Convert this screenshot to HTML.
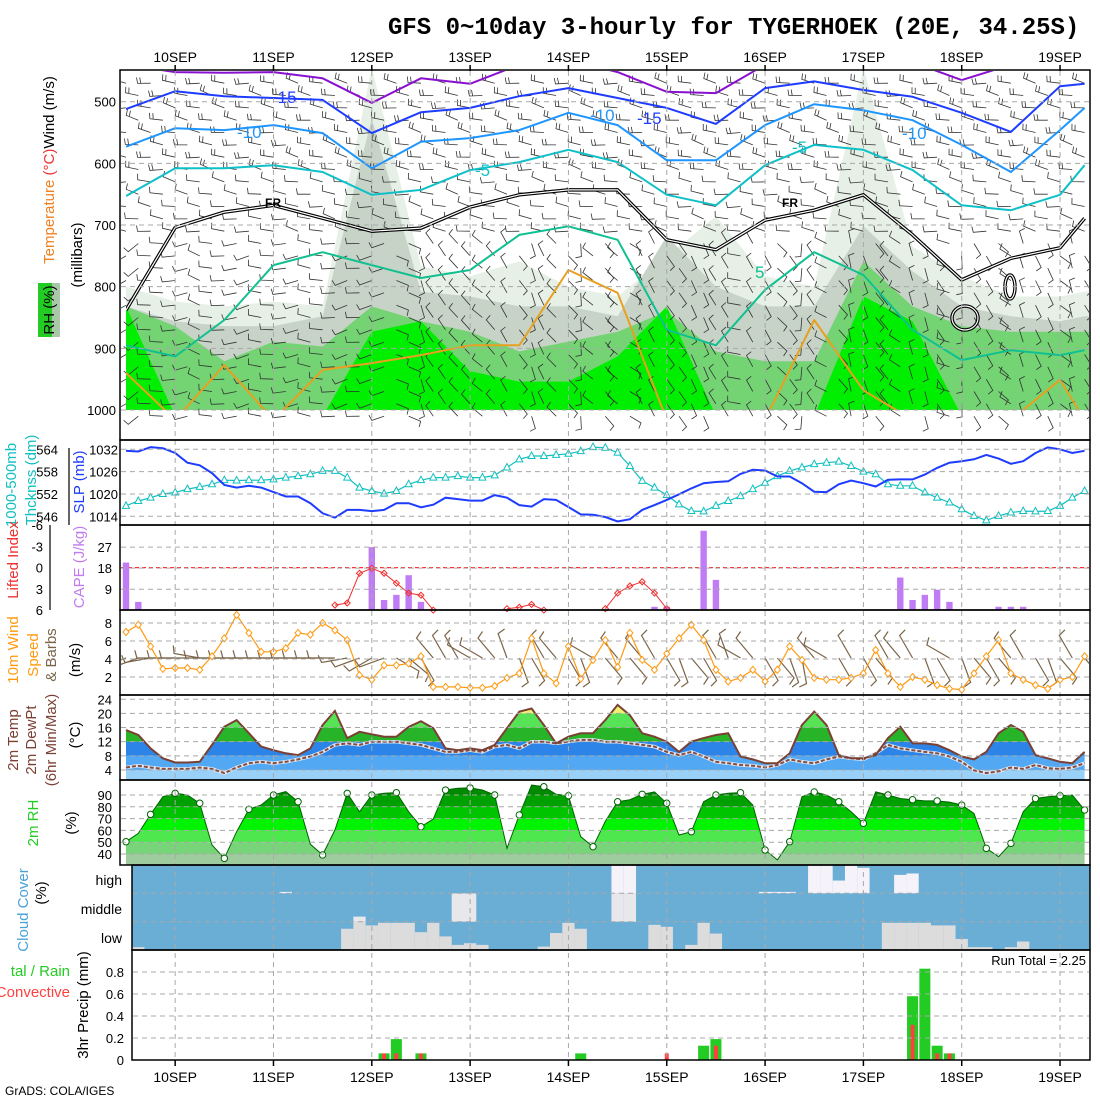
<!DOCTYPE html>
<html><head><meta charset="utf-8"><title>GFS meteogram</title>
<style>
html,body{margin:0;padding:0;background:#fff;}
svg{display:block;font-family:"Liberation Sans",sans-serif;}
.lbl{font-size:13px;}
.grid{stroke:#a8a8a8;stroke-width:1;stroke-dasharray:5 4;fill:none;}
</style></head>
<body>
<svg id="chart" xmlns="http://www.w3.org/2000/svg" width="1100" height="1100" viewBox="0 0 1100 1100">
<defs>
<clipPath id="clipTop"><rect x="126" y="71" width="963" height="339"/></clipPath>
<clipPath id="clipPanelTop"><rect x="121" y="71" width="968" height="368"/></clipPath>
<clipPath id="clipW"><rect x="121" y="611" width="968" height="83"/></clipPath>
</defs>
<rect x="0" y="0" width="1100" height="1100" fill="#fff"/>
<text x="388" y="34" style="font-family:'Liberation Mono',monospace;font-weight:bold;font-size:24px">GFS 0~10day 3-hourly for TYGERHOEK (20E, 34.25S)</text>
<g id="layers"></g>
<g id="labels"></g>
<text x="5" y="1095" style="font-size:12px">GrADS: COLA/IGES</text>
</svg>
<script>
// ---------- data ----------
const days = ["10SEP","11SEP","12SEP","13SEP","14SEP","15SEP","16SEP","17SEP","18SEP","19SEP"];
const isoSteps = [0,4,8,12,16,20,24,28,32,36,40,44,48,52,56,60,64,68,72,76,78];
const isoM20 = [440,452,453,452,462,502,462,471,440,432,452,484,486,440,425,425,436,465,440,425,425];
const isoM15 = [512,483,491,494,497,551,517,510,491,478,494,510,536,478,467,481,492,518,549,475,471];
const isoM10 = [573,543,546,538,551,608,565,559,546,518,538,595,595,538,504,514,530,570,614,546,510];
const isoM5 = [653,608,608,603,614,651,643,611,598,578,598,651,668,603,570,578,611,668,676,651,603];
const isoZero = [838,704,679,668,689,710,705,671,651,643,643,724,740,692,676,651,716,789,754,737,689];
const isoP5 = [895,913,854,765,744,765,786,773,716,702,724,870,895,805,744,781,870,919,903,911,903];
const isoP10 = [940,1016,927,1016,935,924,911,895,895,773,810,1016,1016,1016,854,968,1016,1016,1016,951,1016];
const rh30Top = [800,824,832,824,832,445,767,783,759,800,816,751,686,783,800,445,735,783,816,816,808];
const rh50Top = [832,856,864,864,848,527,808,816,832,832,848,718,800,832,832,702,775,832,848,856,848];
const rh70Top = [832,864,921,889,897,832,856,873,905,889,873,840,905,921,921,759,832,864,873,873,873];
const rh80Top = [832,1010,1010,1010,1010,873,856,937,954,954,913,832,1010,1010,1010,816,856,1010,1010,1010,1010];
const slp = [1031.6,1031.4,1032.6,1032.3,1031,1028.4,1027.7,1025.6,1022.4,1021.7,1022.2,1021.7,1020.5,1019.3,1019.3,1017.5,1014.8,1013.6,1015.7,1015.7,1015.4,1015.7,1017.5,1017.5,1016.4,1017.1,1019,1018.6,1018.2,1018.2,1019.7,1019,1017,1016.6,1018.6,1018.4,1016.5,1014.5,1014.4,1013.8,1012.6,1013.2,1015.7,1017,1018.4,1019.9,1021.5,1022.9,1023.2,1023.4,1025.4,1026.5,1026.3,1024.7,1024.7,1022.9,1020.6,1020.5,1022.6,1023.6,1022.9,1022,1023.8,1023.9,1023.9,1025.2,1027,1028.4,1028.8,1029.3,1030.5,1029.5,1028.1,1028.8,1031,1032.5,1032,1031,1031.6];
const thick = [548.8,550.1,551,552,552.4,553.3,553.9,554.6,555.7,555.6,555.7,555.7,555.9,556.4,556.8,557.3,558.2,558.2,556.4,553.7,552.8,552.1,552.8,554.6,555.7,556.4,556.4,556.8,556.4,556.4,557,559.1,561.3,562.2,562.2,562.5,562.8,563.5,564.6,564.4,563.1,559.5,555.5,553.7,551.7,549.2,547.4,547.3,548.8,550.1,551.4,553.3,555,556.8,558.2,559.1,560,560.4,560.7,559.5,558,557.3,554.6,554.2,554.2,552.4,551,549.7,547.9,546.1,544.9,546.1,547,547.4,547.3,547.4,548.8,551,552.8];
const capeIdx = [0,1,20,21,22,23,24,43,44,47,48,63,64,65,66,67,71,72,73];
const capeVal = [20.4,3.6,27,4.4,6.6,15,3.6,1.5,1.5,34,13,14,4.4,6.6,8.8,3.6,1.5,1.5,1.5];
const liIdx = [17,18,19,20,21,22,23,24,25,31,32,33,34,39,40,41,42,43,44];
const liVal = [5.3,5.0,0.8,0.1,0.8,2.2,3.6,3.9,6.0,5.8,5.6,5.2,6.0,5.8,3.6,2.6,2.0,3.6,5.8];
const wspd = [7.0,7.8,5.4,2.9,3.0,3.0,2.8,4.3,6.3,8.9,6.9,4.8,4.8,5.2,6.9,6.7,8.0,7.2,6.1,2.2,1.7,3.3,3.3,3.5,4.3,0.9,0.9,0.9,0.8,0.8,1.0,1.9,2.4,6.3,2.4,1.3,5.4,1.8,3.9,6.1,3.1,6.9,3.9,2.8,4.6,6.3,7.8,6.1,2.8,1.5,1.9,2.8,1.5,2.8,5.4,3.9,1.9,1.7,1.7,1.9,2.4,5.0,2.4,0.9,2.0,1.7,1.1,0.7,0.6,2.4,4.3,6.1,2.4,1.7,1.1,0.7,1.7,2.0,4.3];
const wdir = [250,250,260,270,270,270,280,270,270,270,270,270,270,270,270,270,270,270,260,250,240,250,120,130,150,320,330,330,300,300,320,340,160,150,330,320,150,160,300,140,320,140,320,330,150,160,140,150,330,340,300,320,150,140,160,170,320,300,150,330,150,140,330,320,330,160,150,300,160,140,150,140,320,330,150,160,140,330,140];
const temp = [15.3,13.9,10.1,7.3,6.1,6.1,6.3,11.1,16.2,18.1,14.4,10.6,9.6,8.7,8.2,10.1,16.7,20.7,13.0,14.8,14.1,13.4,13.4,16.2,17.8,15.8,10.1,9.6,10.1,9.6,11.1,15.8,20.5,21.4,16.7,11.5,13.4,14.4,14.4,18.1,22.4,19.5,14.4,13.4,12.0,9.1,12.0,13.0,13.9,14.4,7.8,7.0,5.9,5.9,8.7,16.7,20.5,16.7,8.2,7.3,7.3,8.2,13.0,16.2,11.5,11.5,11.1,9.6,7.8,7.0,9.1,14.4,16.7,14.8,8.2,7.3,6.3,5.9,9.1];
const dewpt = [4.7,5.2,4.7,4.3,4.3,4.3,4.7,4.3,3.1,4.7,5.9,6.3,5.9,6.3,7.0,7.8,9.1,11.1,11.5,11.1,12.0,12.0,12.0,11.5,11.1,10.1,9.1,9.1,9.6,9.1,10.6,11.1,10.1,12.0,12.0,11.5,12.0,12.5,12.5,12.0,12.0,11.5,11.1,10.6,9.1,8.2,9.1,7.8,6.3,5.9,5.4,5.2,4.7,5.4,7.0,6.3,5.9,7.0,7.8,7.3,7.0,8.7,11.1,10.1,9.6,9.1,8.7,7.8,6.3,3.9,3.1,3.6,4.7,4.3,5.4,4.5,4.3,4.7,5.9];
const rh = [50.4,57.5,73.6,88.6,91.4,90,83,47.6,36.3,58.9,77.9,81.5,90,93,84.3,48.2,39.2,60.3,91.4,75.8,90,91.4,92,75.8,63.1,69.7,94.2,95.7,96,94.2,90,44.8,73.1,98.5,97,90.6,89.4,54.7,46.2,67.6,84.3,86,90.6,92.6,83,56.1,58.9,84.3,90,91.4,92,81.5,43.4,35,50.4,88.6,92.6,90,84.3,75.8,66,92.6,90,87,86,85,85,84,81.5,74.4,44.8,37.7,49,75.8,87,88.6,89.4,90,77.3];
const cloudLowIdx = [1,18,19,20,21,22,23,24,25,26,27,28,29,34,35,36,37,43,44,46,47,48,62,63,64,65,66,67,68,69,70,72,73];
const cloudLowVal = [10,75,100,87,96,96,96,63,96,48,18,24,18,12,60,96,75,89,82,18,96,58,96,96,96,96,87,87,39,10,10,10,30];
const cloudMidIdx = [19,27,28,40,41];
const cloudMidVal = [18,100,100,100,100];
const cloudHighIdx = [13,40,41,52,53,54,56,57,58,59,60,63,64];
const cloudHighVal = [5,100,100,5,5,5,100,100,45,100,90,65,70];
const precipIdx = [21,22,24,37,44,47,48,64,65,66,67];
const precipTot = [0.06,0.19,0.06,0.06,0.0,0.13,0.19,0.58,0.83,0.13,0.06];
const precipConv = [0.06,0.06,0.06,0.0,0.06,0.0,0.13,0.32,0.0,0.06,0.06];
const slpTicks = [1032,1026,1020,1014];
const thickTicks = [564,558,552,546];
const pTicks = [500,600,700,800,900,1000];
const capeTicks = [27,18,9];
const liTicks = ["-6","-3","0","3","6"];
const wTicks = [8,6,4,2];
const tTicks = [24,20,16,12,8,4];
const rhTicks = [90,80,70,60,50,40];
const prTicks = ["0.8","0.6","0.4","0.2","0"];

// ---------- scales ----------
const NS = "http://www.w3.org/2000/svg";
const X = i => 126 + 12.29 * i;
const Yp = p => 101.7 + (p - 500) * 0.6166;
const Ys = v => 449.3 + (1032 - v) * 3.72;
const Yt = v => 449.3 + (564 - v) * 3.72;
const Yc = v => 610.3 - v * 2.34;
const Yl = v => 567.6 + v * 7.08;
const Yw = v => 695 - 9 * v;
const YT = v => 784.1 - 3.535 * v;
const Yr = v => 795 + (90 - v) * 1.18;
const Ypr = v => 1060 - 110 * v;

const layers = document.getElementById('layers');
const labels = document.getElementById('labels');
function mk(tag, attrs, parent) {
  const e = document.createElementNS(NS, tag);
  for (const k in attrs) e.setAttribute(k, attrs[k]);
  (parent || layers).appendChild(e);
  return e;
}
function grp(name, attrs) {
  const g = mk('g', attrs || {});
  
  
  return g;
}
function txt(s, x, y, attrs, parent) {
  const t = mk('text', Object.assign({x: x, y: y}, attrs || {}), parent || labels);
  t.textContent = s;
  return t;
}

// ---------- top panel: RH shading ----------
const gTop = grp('rh-temperature-panel', {'clip-path': 'url(#clipTop)'});
function bandPoly(arr, color, name) {
  let pts = isoSteps.map((k, j) => X(k) + ',' + Yp(arr[j]).toFixed(1));
  pts.push(X(78) + 10 + ',' + Yp(arr[arr.length - 1]).toFixed(1));
  pts.unshift('116,' + Yp(arr[0]).toFixed(1));
  pts.push('1100,420', '116,420');
  const e = mk('polygon', {points: pts.join(' '), fill: color}, gTop);
  
  
}
bandPoly(rh30Top, '#e6f0e6', 'rh-band-30');
bandPoly(rh50Top, '#c7d3c7', 'rh-band-50');
bandPoly(rh70Top, '#74d474', 'rh-band-70');
bandPoly(rh80Top, '#00ee00', 'rh-band-80');

// ---------- top panel barbs ----------
const gBarb = grp('upper-wind-barbs', {'clip-path': 'url(#clipPanelTop)', stroke: '#333', 'stroke-width': '0.8', fill: 'none'});
for (let i = 0; i < 79; i++) {
  const off = (i % 2) * 20;
  for (let p = 470 + off; p <= 1010; p += 40) {
    const dir = p < 720 ? 265 + ((i * 7 + p) % 30) : wdir[i] + ((p * 3 + i * 11) % 40) - 20;
    const a = dir * Math.PI / 180;
    const x0 = X(i), y0 = Yp(p);
    const dx = Math.sin(a) * 13, dy = -Math.cos(a) * 13;
    const x1 = x0 + dx, y1 = y0 + dy;
    const fx = Math.sin(a + 1.4) * 6, fy = -Math.cos(a + 1.4) * 6;
    let d = 'M' + x0.toFixed(1) + ' ' + y0.toFixed(1) + 'L' + x1.toFixed(1) + ' ' + y1.toFixed(1) + 'l' + fx.toFixed(1) + ' ' + fy.toFixed(1);
    if (p < 620) d += 'M' + (x1 - dx * 0.25).toFixed(1) + ' ' + (y1 - dy * 0.25).toFixed(1) + 'l' + fx.toFixed(1) + ' ' + fy.toFixed(1);
    const b = mk('path', {d: d}, gBarb);
    
    
  }
}

// ---------- isotherms ----------
function isoLine(arr, color, w, name) {
  const pts = isoSteps.map((k, j) => X(k).toFixed(1) + ',' + Yp(arr[j]).toFixed(1)).join(' ');
  const e = mk('polyline', {points: pts, fill: 'none', stroke: color, 'stroke-width': w, 'stroke-linejoin': 'round'}, gTop);
  
  
  return e;
}
const gTopL = grp('isotherm-lines', {'clip-path': 'url(#clipTop)'});
function isoLine2(arr, color, w, name) {
  const pts = isoSteps.map((k, j) => X(k).toFixed(1) + ',' + Yp(arr[j]).toFixed(1)).join(' ');
  const e = mk('polyline', {points: pts, fill: 'none', stroke: color, 'stroke-width': w, 'stroke-linejoin': 'round'}, gTopL);
  
  
}
isoLine2(isoM20, '#8a10d0', 2, 'isotherm-minus-20');
isoLine2(isoM15, '#1e3cff', 2, 'isotherm-minus-15');
isoLine2(isoM10, '#1e96ff', 2, 'isotherm-minus-10');
isoLine2(isoM5, '#10c0c8', 2, 'isotherm-minus-5');
isoLine2(isoZero, '#000', 3.5, 'freezing-level-outer');
isoLine2(isoZero, '#fff', 1.2, 'freezing-level-inner');
isoLine2(isoP5, '#10c090', 2, 'isotherm-plus-5');
isoLine2(isoP10, '#e8a020', 2, 'isotherm-plus-10');
const frC = [[965, 318, 13, 12], [1010, 287, 5, 12]];
frC.forEach(c => {
  const e1 = mk('ellipse', {cx: c[0], cy: c[1], rx: c[2], ry: c[3], fill: 'none', stroke: '#000', 'stroke-width': 3.5}, gTopL);
  
  
  const e2 = mk('ellipse', {cx: c[0], cy: c[1], rx: c[2], ry: c[3], fill: 'none', stroke: '#fff', 'stroke-width': 1.2}, gTopL);
  
  
});
const isoLabels = [['-15', 280, 103, '#1e3cff'], ['-10', 245, 138, '#1e96ff'], ['-5', 483, 176, '#10c0c8'], ['-10', 598, 121, '#1e96ff'], ['-15', 645, 124, '#1e3cff'], ['-5', 800, 153, '#10c0c8'], ['-10', 910, 139, '#1e96ff'], ['5', 763, 278, '#10c090'], ['FR', 273, 207, '#000'], ['FR', 790, 207, '#000']];
isoLabels.forEach(l => {
  const t = txt(l[0], l[1] - 8, l[2], {fill: l[3], style: 'font-size:' + (l[0] === 'FR' ? '12px;font-weight:bold' : '17px')}, gTopL);
  
  
});

// ---------- SLP / thickness ----------
const gS = grp('slp-panel');
const thickPts = thick.map((v, i) => X(i).toFixed(1) + ',' + Yt(v).toFixed(1)).join(' ');
const tl = mk('polyline', {points: thickPts, fill: 'none', stroke: '#10c0c0', 'stroke-width': 1.2}, gS);


thick.forEach((v, i) => {
  const x = X(i), y = Yt(v);
  const m = mk('polygon', {points: x + ',' + (y - 4) + ' ' + (x - 3.5) + ',' + (y + 2.5) + ' ' + (x + 3.5) + ',' + (y + 2.5), fill: '#fff', stroke: '#10c0c0', 'stroke-width': 1}, gS);
  
  
});
const sl = mk('polyline', {points: slp.map((v, i) => X(i).toFixed(1) + ',' + Ys(v).toFixed(1)).join(' '), fill: 'none', stroke: '#1e3cff', 'stroke-width': 2}, gS);



// ---------- CAPE / LI ----------
const gC = grp('cape-panel');
const liZero = mk('line', {x1: 121, x2: 1089, y1: Yl(0), y2: Yl(0), stroke: '#ff3030', 'stroke-width': 1.2, 'stroke-dasharray': '4 3'}, gC);


capeIdx.forEach((k, j) => {
  const r = mk('rect', {x: X(k) - 3.2, y: Yc(capeVal[j]), width: 6.4, height: 610 - Yc(capeVal[j]), fill: '#c07cf4'}, gC);
  
  
});
let seg = [];
liIdx.forEach((k, j) => {
  if (j > 0 && k !== liIdx[j - 1] + 1) {
    const s = mk('polyline', {points: seg.join(' '), fill: 'none', stroke: '#f03030', 'stroke-width': 1}, gC);
    
    
    seg = [];
  }
  seg.push(X(k).toFixed(1) + ',' + Yl(liVal[j]).toFixed(1));
  const d = mk('path', {d: 'M' + X(k) + ' ' + (Yl(liVal[j]) - 3) + 'l3 3l-3 3l-3 -3z', fill: 'none', stroke: '#f03030'}, gC);
  
  
});
const s2 = mk('polyline', {points: seg.join(' '), fill: 'none', stroke: '#f03030', 'stroke-width': 1}, gC);



// ---------- 10m wind ----------
const gW = grp('wind-panel', {'clip-path': 'url(#clipW)'});
wdir.forEach((dir, i) => {
  const a = dir * Math.PI / 180, x0 = X(i), y0 = 658;
  const x1 = x0 + Math.sin(a) * 26, y1 = y0 - Math.cos(a) * 26;
  const fx = Math.sin(a + 1.3) * 8, fy = -Math.cos(a + 1.3) * 8;
  const b = mk('path', {d: 'M' + x0.toFixed(1) + ' ' + y0 + 'L' + x1.toFixed(1) + ' ' + y1.toFixed(1) + 'l' + fx.toFixed(1) + ' ' + fy.toFixed(1), stroke: '#7a6448', 'stroke-width': 1.2, fill: 'none'}, gW);
  
  
});
const wl = mk('polyline', {points: wspd.map((v, i) => X(i).toFixed(1) + ',' + Yw(v).toFixed(1)).join(' '), fill: 'none', stroke: '#ff9a10', 'stroke-width': 1.2}, gW);


wspd.forEach((v, i) => {
  const d = mk('path', {d: 'M' + X(i) + ' ' + (Yw(v) - 3.5) + 'l3 3.5l-3 3.5l-3 -3.5z', fill: '#fff', stroke: '#ff9a10'}, gW);
  
  
});

// ---------- temperature ----------
const tPoly = temp.map((v, i) => X(i).toFixed(1) + ',' + YT(v).toFixed(1));
const clipT = mk('clipPath', {id: 'clipTemp'}, document.querySelector('defs'));
mk('polygon', {points: tPoly.join(' ') + ' ' + X(78) + ',780 126,780'}, clipT);
const tBands = [[0, 4, '#98d0f8'], [4, 8, '#52a8f2'], [8, 12, '#2c84e8'], [12, 16, '#28b428'], [16, 20, '#56e456'], [20, 24, '#f0f070']];
const gTB = grp('temperature-bands', {'clip-path': 'url(#clipTemp)'});
tBands.forEach(b => {
  const r = mk('rect', {x: 120, y: YT(b[1]), width: 970, height: YT(b[0]) - YT(b[1]) + (b[0] === 0 ? 20 : 0), fill: b[2]}, gTB);
  
  
});
const gT = grp('temperature-panel');
const dl0 = mk('polyline', {points: dewpt.map((v, i) => X(i).toFixed(1) + ',' + YT(v).toFixed(1)).join(' '), fill: 'none', stroke: '#d8e8f8', 'stroke-width': 3.5}, gT);


const dl = mk('polyline', {points: dewpt.map((v, i) => X(i).toFixed(1) + ',' + YT(v).toFixed(1)).join(' '), fill: 'none', stroke: '#8a4a3a', 'stroke-width': 2, 'stroke-dasharray': '4 2'}, gT);


const tline = mk('polyline', {points: tPoly.join(' '), fill: 'none', stroke: '#7a4034', 'stroke-width': 2}, gT);



// ---------- RH ----------
const clipR = mk('clipPath', {id: 'clipRH'}, document.querySelector('defs'));
mk('polygon', {points: rh.map((v, i) => X(i).toFixed(1) + ',' + Yr(Math.min(v, 99)).toFixed(1)).join(' ') + ' ' + X(78) + ',865 126,865'}, clipR);
const rBands = [[0, 40, '#9fcc9f'], [40, 50, '#78d478'], [50, 60, '#4ee84e'], [60, 70, '#00f400'], [70, 80, '#00c400'], [80, 90, '#00a000'], [90, 100, '#008a00']];
const gRB = grp('rh-bands', {'clip-path': 'url(#clipRH)'});
rBands.forEach(b => {
  const r = mk('rect', {x: 120, y: Yr(b[1]), width: 970, height: Yr(b[0]) - Yr(b[1]), fill: b[2]}, gRB);
  
  
});
const gR = grp('rh-panel');
const rl = mk('polyline', {points: rh.map((v, i) => X(i).toFixed(1) + ',' + Yr(Math.min(v, 99)).toFixed(1)).join(' '), fill: 'none', stroke: '#006400', 'stroke-width': 1}, gR);


rh.forEach((v, i) => {
  if (i % 2) return;
  const c = mk('circle', {cx: X(i), cy: Yr(Math.min(v, 99)), r: 3.2, fill: '#fff', stroke: '#006400'}, gR);
  
  
});

// ---------- cloud ----------
const gCl = grp('cloud-panel');
const cbg = mk('rect', {x: 132, y: 865, width: 958, height: 85, fill: '#6aaed6'}, gCl);


function cloudBars(idx, val, base, color, name) {
  idx.forEach((k, j) => {
    const h = val[j] / 100 * 28.3;
    const r = mk('rect', {x: X(k) - 6.15, y: base - h, width: 12.3, height: h, fill: color}, gCl);
    
    
  });
}
cloudBars(cloudLowIdx, cloudLowVal, 950, '#dcdcdc', 'low-cloud-bar');
cloudBars(cloudMidIdx, cloudMidVal, 921.7, '#e8e8ec', 'middle-cloud-bar');
cloudBars(cloudHighIdx, cloudHighVal, 893.3, '#f6f2fa', 'high-cloud-bar');

// ---------- precip ----------
const gP = grp('precip-panel');
precipIdx.forEach((k, j) => {
  if (precipTot[j] > 0) {
    const r = mk('rect', {x: X(k) - 5.5, y: Ypr(precipTot[j]), width: 11, height: 1060 - Ypr(precipTot[j]), fill: '#22cc22'}, gP);
    
    
  }
  if (precipConv[j] > 0) {
    const r2 = mk('rect', {x: X(k) - 2, y: Ypr(precipConv[j]), width: 4, height: 1060 - Ypr(precipConv[j]), fill: '#ff4040'}, gP);
    
    
  }
});

// ---------- grids ----------
const gG = grp('grid-lines');
days.forEach((d, j) => {
  const x = X(4 + 8 * j);
  const l = mk('line', {x1: x, x2: x, y1: 71, y2: 1060, class: 'grid'}, gG);
  
  
});
const hLines = [];
pTicks.forEach(p => hLines.push([121, Yp(p)]));
slpTicks.forEach(v => hLines.push([121, Ys(v)]));
capeTicks.forEach(v => hLines.push([121, Yc(v)]));
wTicks.forEach(v => hLines.push([121, Yw(v)]));
tTicks.forEach(v => hLines.push([121, YT(v)]));
rhTicks.forEach(v => hLines.push([121, Yr(v)]));
[893.3, 921.7].forEach(y => hLines.push([133, y]));
prTicks.slice(0, 4).forEach(v => hLines.push([133, Ypr(+v)]));
hLines.forEach(h => {
  const l = mk('line', {x1: h[0], x2: 1089, y1: h[1], y2: h[1], class: 'grid'}, gG);
  
  
});

// ---------- frames ----------
const gF = grp('panel-frames', {fill: 'none', stroke: '#000', 'stroke-width': 1.5});
[[120, 70, 970, 370], [120, 440, 970, 85], [120, 525, 970, 85], [120, 610, 970, 85], [120, 695, 970, 85], [120, 780, 970, 85], [132, 865, 958, 85], [132, 950, 958, 110]].forEach(f => {
  const r = mk('rect', {x: f[0], y: f[1], width: f[2], height: f[3]}, gF);
  
  
});
days.forEach((d, j) => {
  const x = X(4 + 8 * j);
  const t1 = mk('line', {x1: x, x2: x, y1: 65, y2: 71}, gF);
  
  
  const t2 = mk('line', {x1: x, x2: x, y1: 1060, y2: 1066}, gF);
  
  
  const a = txt(d, x, 62, {'text-anchor': 'middle', class: 'lbl', style: 'font-size:14px'});
  
  
  const b = txt(d, x, 1082, {'text-anchor': 'middle', class: 'lbl', style: 'font-size:14px'});
  
  
});

// ---------- axis tick labels ----------
function ticks(arr, fy, xr, name, color) {
  arr.forEach(v => {
    const t = txt(String(v), xr, fy(+v) + 5, {'text-anchor': 'end', class: 'lbl', fill: color || '#000'});
    
    
  });
}
ticks(pTicks, Yp, 116, 'pressure-tick-label');
ticks(slpTicks, Ys, 118, 'slp-tick-label');
ticks(thickTicks, Yt, 58, 'thickness-tick-label');
ticks(capeTicks, Yc, 112, 'cape-tick-label');
ticks(liTicks, Yl, 43, 'lifted-index-tick-label');
ticks(wTicks, Yw, 112, 'wind-tick-label');
ticks(tTicks, YT, 112, 'temperature-tick-label');
ticks(rhTicks, Yr, 112, 'rh-tick-label');
ticks(prTicks, Ypr, 124, 'precip-tick-label');
const axF = grp('side-axes', {stroke: '#000', 'stroke-width': 1.2});
[[69, 448, 69, 525], [50, 525, 50, 610]].forEach(a => {
  const l = mk('line', {x1: a[0], y1: a[1], x2: a[2], y2: a[3]}, axF);
  
  
});
[['high', 880], ['middle', 909], ['low', 938]].forEach(c => {
  const t = txt(c[0], 122, c[1] + 5, {'text-anchor': 'end', class: 'lbl', style: 'font-size:14px'});
  
  
});
const rt = txt('Run Total = 2.25', 1086, 965, {'text-anchor': 'end', class: 'lbl'});



// ---------- rotated side titles ----------
function vtitle(parts, x, cy, name) {
  const t = mk('text', {transform: 'translate(' + x + ',' + cy + ') rotate(-90)', 'text-anchor': 'middle', class: 'lbl', style: 'font-size:15px'}, labels);
  
  
  parts.forEach(p => {
    const s = mk('tspan', {fill: p[1]}, t);
    s.textContent = p[0];
  });
}
vtitle([['Temperature ', '#f08020'], ['(°C)', '#f03030'], ['Wind (m/s)', '#000']], 54, 170, 'upper-panel-title');
vtitle([['(millibars)', '#000']], 82, 255, 'pressure-axis-title');
vtitle([['1000-500mb', '#10c0c0']], 16, 485, 'thickness-title');
vtitle([['Thcknss (dm)', '#10c0c0']], 36, 480, 'thickness-unit-title');
vtitle([['SLP (mb)', '#1e3cff']], 84, 482, 'slp-title');
vtitle([['Lifted Index', '#f03030']], 18, 560, 'lifted-index-title');
vtitle([['CAPE (J/kg)', '#c07cf4']], 84, 567, 'cape-title');
vtitle([['10m Wind', '#ff9a10']], 18, 650, 'wind-title');
vtitle([['Speed', '#ff9a10']], 38, 655, 'wind-speed-title');
vtitle([['& Barbs', '#7a6448']], 56, 655, 'wind-barbs-title');
vtitle([['(m/s)', '#000']], 80, 660, 'wind-unit-title');
vtitle([['2m Temp', '#7a4034']], 18, 740, 'temp-title');
vtitle([['2m DewPt', '#7a4034']], 36, 740, 'dewpoint-title');
vtitle([['(6hr Min/Max)', '#7a4034']], 56, 740, 'minmax-title');
vtitle([['(°C)', '#000']], 80, 735, 'temp-unit-title');
vtitle([['2m RH', '#22cc22']], 38, 823, 'rh-title');
vtitle([['(%)', '#000']], 76, 823, 'rh-unit-title');
vtitle([['Cloud Cover', '#4aa0d8']], 28, 910, 'cloud-title');
vtitle([['(%)', '#000']], 46, 893, 'cloud-unit-title');
vtitle([['3hr Precip (mm)', '#000']], 88, 1005, 'precip-title');
const rhKey = mk('rect', {x: 38, y: 283, width: 22, height: 54, fill: '#22cc22'}, labels);


const rhKey2 = mk('rect', {x: 52, y: 283, width: 8, height: 54, fill: '#a8c8a8'}, labels);


vtitle([['RH (%)', '#000']], 54, 310, 'rh-key-title');
const lr = txt('tal / Rain', 70, 976, {'text-anchor': 'end', class: 'lbl', fill: '#22cc22', style: 'font-size:15px'});


const lc = txt('Convective', 70, 997, {'text-anchor': 'end', class: 'lbl', fill: '#ff4040', style: 'font-size:15px'});


</script>
</body></html>
